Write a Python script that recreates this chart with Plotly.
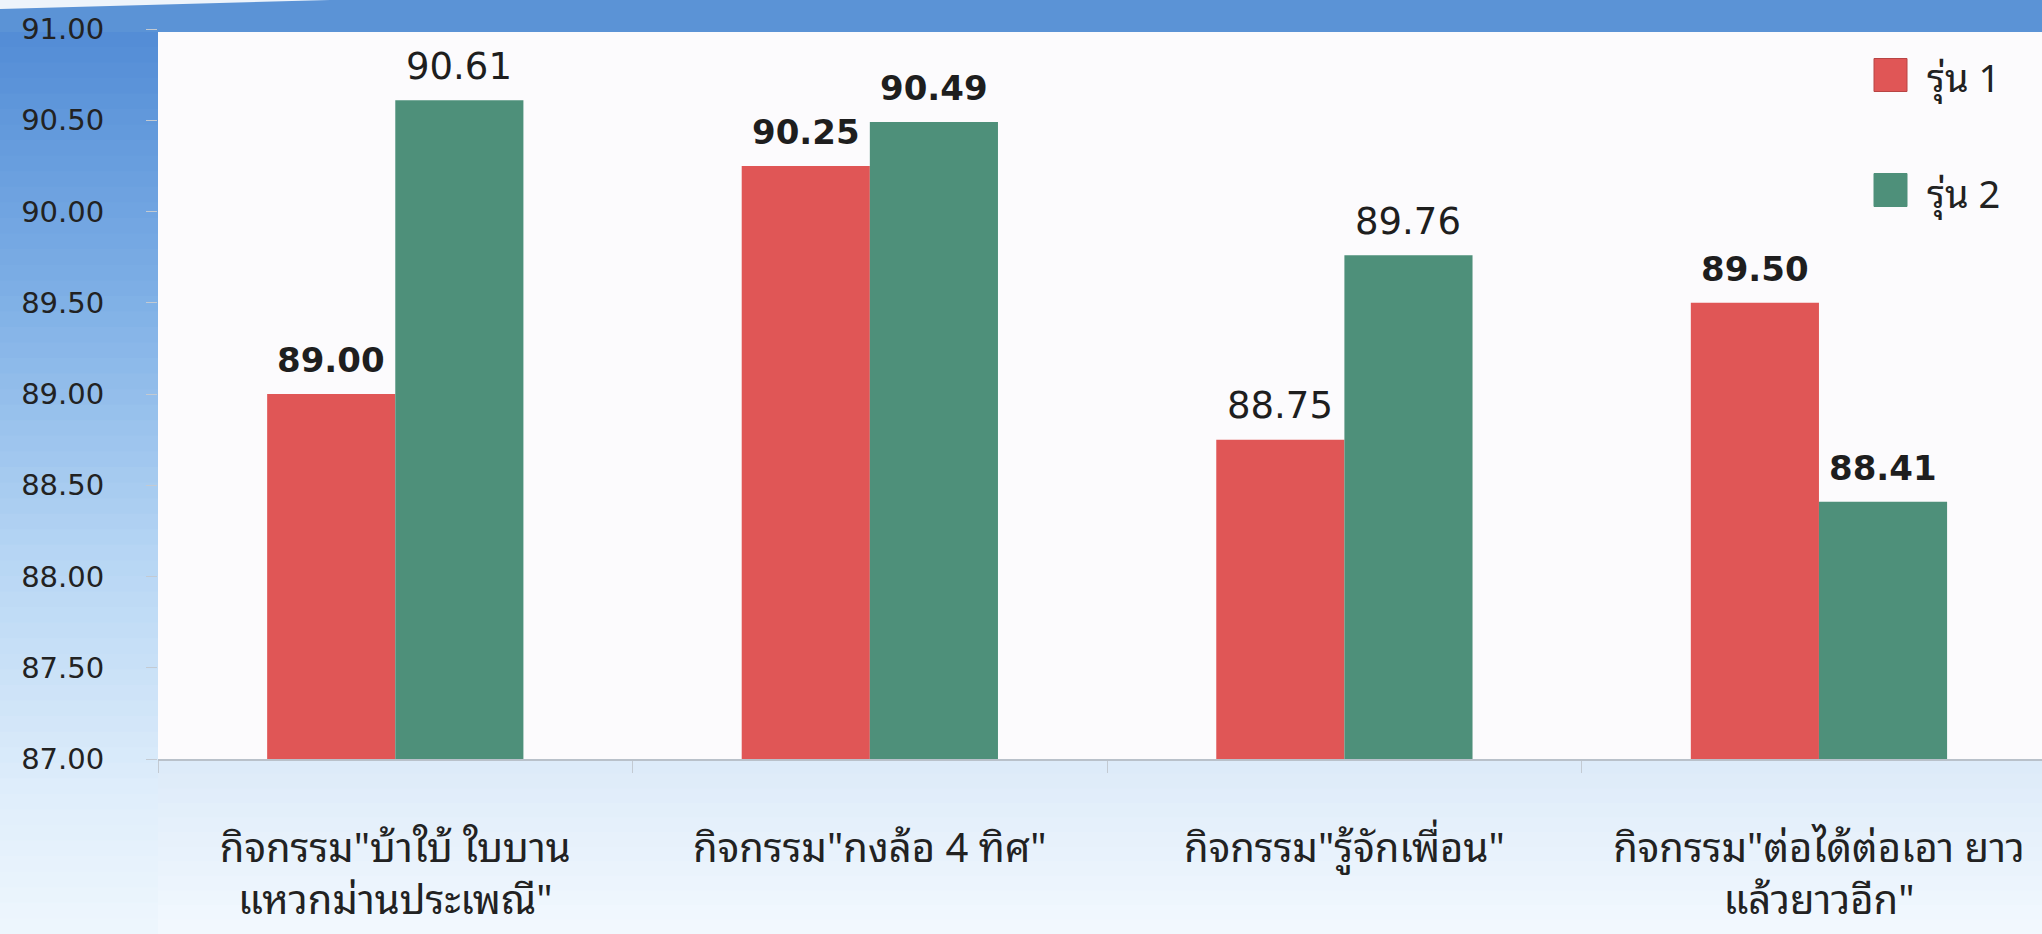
import plotly.graph_objects as go

# ---------------- data ----------------
categories = [
    'กิจกรรม"บ้าใบ้ ใบบาน<br>แหวกม่านประเพณี"',
    'กิจกรรม"กงล้อ 4 ทิศ"',
    'กิจกรรม"รู้จักเพื่อน"',
    'กิจกรรม"ต่อได้ต่อเอา ยาว<br>แล้วยาวอีก"',
]
series_names = ["รุ่น 1", "รุ่น 2"]
values_gen1 = [89.00, 90.25, 88.75, 89.50]
values_gen2 = [90.61, 90.49, 89.76, 88.41]
y_ticks = [87.0, 87.5, 88.0, 88.5, 89.0, 89.5, 90.0, 90.5, 91.0]

# ---------------- style ----------------
W, H = 2042, 934
ML, MR, MT, MB = 158, 0, 29, 175
PW, PH = W - ML - MR, H - MT - MB
XMIN, XMAX = -0.5, 3.47
BARGAP = 0.46
colors = ["#e05656", "#4e907a"]
edge_colors = ["#b84444", "#4e907a"]
bold_gen1 = [True, True, False, True]
bold_gen2 = [False, True, False, True]
NUM_FONT = "DejaVu Sans, Verdana, sans-serif"
THAI_FONT = "Noto Sans Thai Looped, Noto Sans Thai, Loma, Garuda, Noto Sans, sans-serif"


def px2x(px):
    return (px - ML) / PW


def px2y(py):
    return (H - MB - py) / PH


def lerp_color(c1, c2, t):
    a = [int(c1[i:i + 2], 16) for i in (1, 3, 5)]
    b = [int(c2[i:i + 2], 16) for i in (1, 3, 5)]
    return "#%02x%02x%02x" % tuple(round(a[k] + (b[k] - a[k]) * t) for k in range(3))


shapes = []
# left blue gradient band
stops = [(0, "#4d88d4"), (300, "#7fb0e6"), (560, "#b7d6f4"), (800, "#e0eefb"), (934, "#eef6fd")]
N = 60
for k in range(N):
    y0 = H * k / N
    y1 = H * (k + 1) / N + 1
    ym = (y0 + y1) / 2
    for (a, ca), (b, cb) in zip(stops[:-1], stops[1:]):
        if a <= ym <= b:
            col = lerp_color(ca, cb, (ym - a) / (b - a))
            break
    shapes.append(dict(type="rect", xref="paper", yref="paper", layer="below",
                       x0=px2x(0), x1=px2x(ML), y0=px2y(y1), y1=px2y(y0),
                       fillcolor=col, line=dict(width=0)))
# bottom light area
NB = 12
for k in range(NB):
    y0 = (H - MB) + MB * k / NB
    y1 = (H - MB) + MB * (k + 1) / NB + 1
    col = lerp_color("#ddebf9", "#f2f8fe", k / (NB - 1))
    shapes.append(dict(type="rect", xref="paper", yref="paper", layer="below",
                       x0=px2x(ML), x1=1, y0=px2y(y1), y1=px2y(y0),
                       fillcolor=col, line=dict(width=0)))
# top blue band
shapes.append(dict(type="rect", xref="paper", yref="paper", layer="below",
                   x0=px2x(0), x1=1, y0=px2y(32), y1=px2y(0),
                   fillcolor="#5b93d6", line=dict(width=0)))
shapes.append(dict(type="path", xref="paper", yref="paper", layer="below",
                   path="M %f,%f L %f,%f L %f,%f Z" % (px2x(0), px2y(0), px2x(330), px2y(0), px2x(0), px2y(9)),
                   fillcolor="#eef4fb", line=dict(width=0)))

fig = go.Figure()
for name, vals, col in zip(series_names, [values_gen1, values_gen2], colors):
    fig.add_trace(go.Bar(
        name=name, x=categories, y=vals, marker=dict(color=col, line=dict(width=0)),
        showlegend=False,
    ))

cat_px = PW / (XMAX - XMIN)
bar_px = cat_px * (1 - BARGAP) / 2
annotations = []
for i, (vals, bolds) in enumerate(zip([values_gen1, values_gen2], [bold_gen1, bold_gen2])):
    for cat, v, b in zip(categories, vals, bolds):
        txt = f"{v:.2f}"
        annotations.append(dict(
            x=cat, y=v, xref="x", yref="y", text=f"<b>{txt}</b>" if b else txt,
            showarrow=False, xshift=(i - 0.5) * bar_px, yshift=34, yanchor="middle",
            font=dict(family=NUM_FONT, size=34 if b else 37, color="#1e1e1e"),
        ))

# legend (drawn as swatches + labels, top right)
LEG_X, LEG_Y0, LEG_DY, SW = 1874, 75, 115, 33
for k, (name, col, ecol) in enumerate(zip(series_names, colors, edge_colors)):
    yc = LEG_Y0 + k * LEG_DY
    shapes.append(dict(type="rect", xref="paper", yref="paper", layer="above",
                       x0=px2x(LEG_X), x1=px2x(LEG_X + SW), y0=px2y(yc + SW / 2), y1=px2y(yc - SW / 2),
                       fillcolor=col, line=dict(width=1, color=ecol)))
    annotations.append(dict(x=px2x(LEG_X + SW + 18), y=px2y(yc), xref="paper", yref="paper",
                            text=name, showarrow=False, xanchor="left", yanchor="middle",
                            font=dict(family=THAI_FONT, size=38, color="#222")))

fig.update_layout(
    width=W, height=H, autosize=False,
    margin=dict(l=ML, r=MR, t=MT, b=MB, pad=0, autoexpand=False),
    paper_bgcolor="#eef5fc", plot_bgcolor="#fcfbfd",
    barmode="group", bargap=BARGAP, bargroupgap=0,
    shapes=shapes, annotations=annotations, showlegend=False,
    xaxis=dict(range=[XMIN, XMAX], tickson="boundaries", ticks="outside", ticklen=12,
               tickcolor="#c3cad2", showline=True, linecolor="#b9c1ca", linewidth=1.5,
               showgrid=False, automargin=False,
               tickfont=dict(family=THAI_FONT, size=40, color="#222"),
               ticklabelstandoff=53),
    yaxis=dict(range=[87.0, 91.0], tickvals=y_ticks, tickformat=".2f",
               ticks="outside", ticklen=11, tickcolor="#c3cad2", showline=False,
               showgrid=False, zeroline=False, automargin=False,
               tickfont=dict(family=NUM_FONT, size=29, color="#222"),
               ticklabelstandoff=36),
)

fig.write_html("out.html")
